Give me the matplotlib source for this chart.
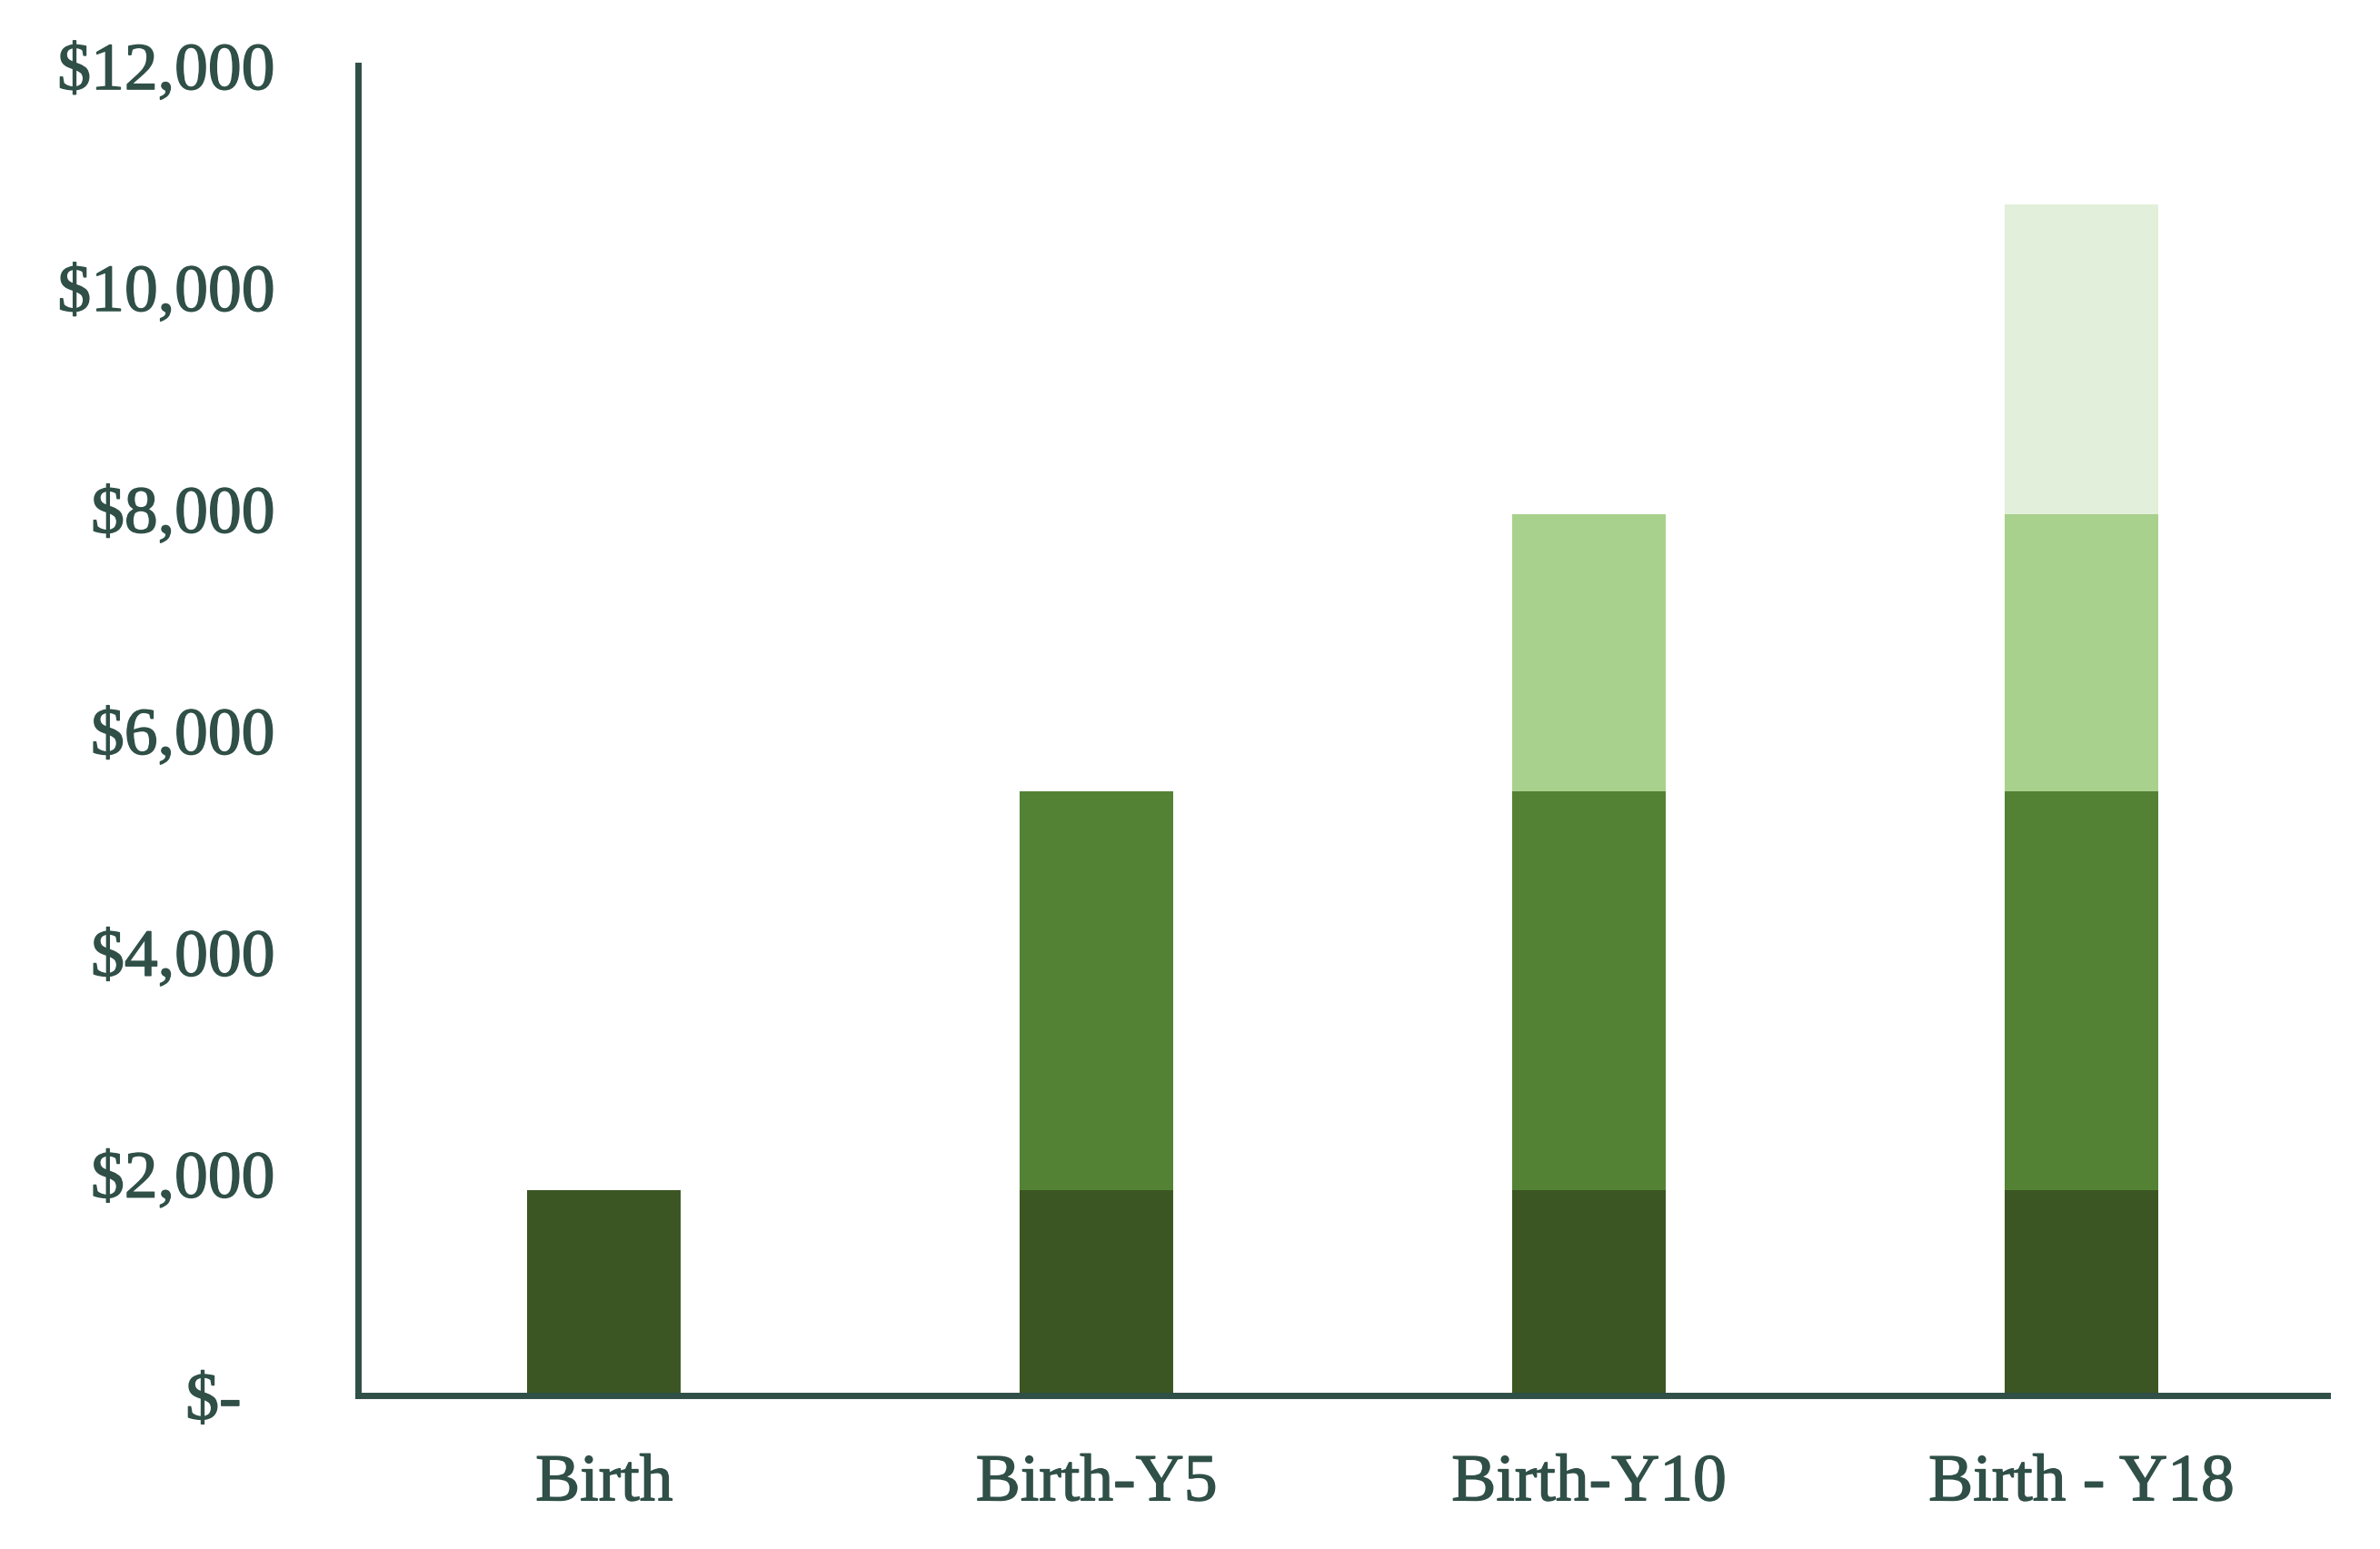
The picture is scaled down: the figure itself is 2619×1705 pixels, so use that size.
import matplotlib
matplotlib.use("Agg")
import matplotlib.pyplot as plt
import matplotlib.patheffects as pe
import numpy as np

# categories and stacked segments (dollars)
categories = ["Birth", "Birth-Y5", "Birth-Y10", "Birth - Y18"]
birth_seg = [1850, 1850, 1850, 1850]
y5_seg    = [0, 3600, 3600, 3600]
y10_seg   = [0, 0, 2500, 2500]
y18_seg   = [0, 0, 0, 2800]

yticks = [0, 2000, 4000, 6000, 8000, 10000, 12000]
ytick_labels = ["$-  ", "$2,000", "$4,000", "$6,000", "$8,000", "$10,000", "$12,000"]

seg_colors = ["#3B5623", "#548235", "#A9D18E", "#E2EFDA"]
ink = "#2F4F47"

plt.rcParams['font.family'] = ['Liberation Serif', 'DejaVu Serif']

fig = plt.figure(figsize=(26.19, 17.06), dpi=100)
ax = fig.add_axes([0.1504, 0.0991, 0.978 - 0.1504, 0.957 - 0.0991])

x = np.arange(len(categories))
width = 0.312
bottom = np.zeros(len(categories))
for seg, col in zip([birth_seg, y5_seg, y10_seg, y18_seg], seg_colors):
    seg = np.array(seg, dtype=float)
    ax.bar(x, seg, width, bottom=bottom, color=col, linewidth=0)
    bottom += seg

ax.set_xlim(-0.5, 3.5)
ax.set_ylim(0, 12000)
ax.set_xticks(x)
ax.set_xticklabels(categories)
ax.set_yticks(yticks)
ax.set_yticklabels(ytick_labels)

for s in ['top', 'right']:
    ax.spines[s].set_visible(False)
for s in ['left', 'bottom']:
    ax.spines[s].set_color(ink)
    ax.spines[s].set_linewidth(5)
    ax.spines[s].set_capstyle('projecting')

ax.tick_params(axis='both', length=0, colors=ink, labelsize=53)
ax.tick_params(axis='y', pad=66)
ax.tick_params(axis='x', pad=46)

# the reference face is a bit heavier than Liberation Serif regular
for lab in ax.get_xticklabels() + ax.get_yticklabels():
    lab.set_path_effects([pe.withStroke(linewidth=1.0, foreground=ink)])

fig.savefig("out.png", dpi=100, facecolor="white")
